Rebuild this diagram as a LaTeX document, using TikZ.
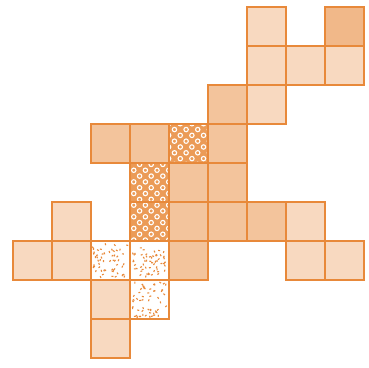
\documentclass[tikz,border=0pt]{standalone}
\usepackage{tikz}
\usetikzlibrary{patterns.meta}

\definecolor{tileline}{RGB}{232,137,58}

% white rings for the patterned tiles
\tikzdeclarepattern{
  name=ringtile,
  type=uncolored,
  bottom left={(-.1pt,-.1pt)},
  top right={(6.1pt,6.1pt)},
  tile size={(6pt,6pt)},
  tile transformation={rotate=45},
  code={\draw[line width=0.8pt] (3pt,3pt) circle (1.6pt);}
}

\begin{document}
\begin{tikzpicture}[x=1cm, y=1cm,
  tile/.style={draw=tileline, line width=0.9pt},
  light/.style={tile, fill=tileline!32},
  mid/.style={tile, fill=tileline!50},
  deep/.style={tile, fill=tileline!60},
  ringbox/.style={draw=tileline, line width=1.3pt}]

\useasboundingbox (-0.333,-0.256) rectangle (9.128,9.179);

% Pale tiles
\foreach \c/\r in {6/0, 6/1, 7/1, 8/1, 6/2, 1/5, 7/5,
                   0/6, 1/6, 7/6, 8/6, 2/7, 2/8} {
    \draw[light] (\c,8-\r) rectangle ++(1,1);
}

% Stronger tiles
\foreach \c/\r in {5/2, 2/3, 3/3, 5/3, 4/4, 5/4,
                   4/5, 5/5, 6/5, 4/6} {
    \draw[mid] (\c,8-\r) rectangle ++(1,1);
}
\draw[deep] (8,8) rectangle ++(1,1);
\draw[ringbox] (3,5) rectangle ++(1,1);

% Ring pattern tiles
\foreach \c/\r in {4/3, 3/4, 3/5} {
    \fill[tileline!85] (\c,8-\r) rectangle ++(1,1);
    \fill[pattern=ringtile, pattern color=white] (\c,8-\r) rectangle ++(1,1);
    \draw[ringbox] (\c,8-\r) rectangle ++(1,1);
}

% Speckled tiles
\pgfmathsetseed{11}
\foreach \c/\r in {2/6, 3/6, 3/7} {
    \fill[white] (\c,8-\r) rectangle ++(1,1);
    \foreach \k in {1,...,55} {
        \pgfmathsetmacro\px{\c+0.06+0.86*rnd}
        \pgfmathsetmacro\py{8-\r+0.06+0.86*rnd}
        \pgfmathsetmacro\pa{360*rnd}
        \draw[tileline, line width=0.8pt] (\px,\py) -- ++(\pa:0.05);
    }
    \draw[tile] (\c,8-\r) rectangle ++(1,1);
}

\end{tikzpicture}
\end{document}
